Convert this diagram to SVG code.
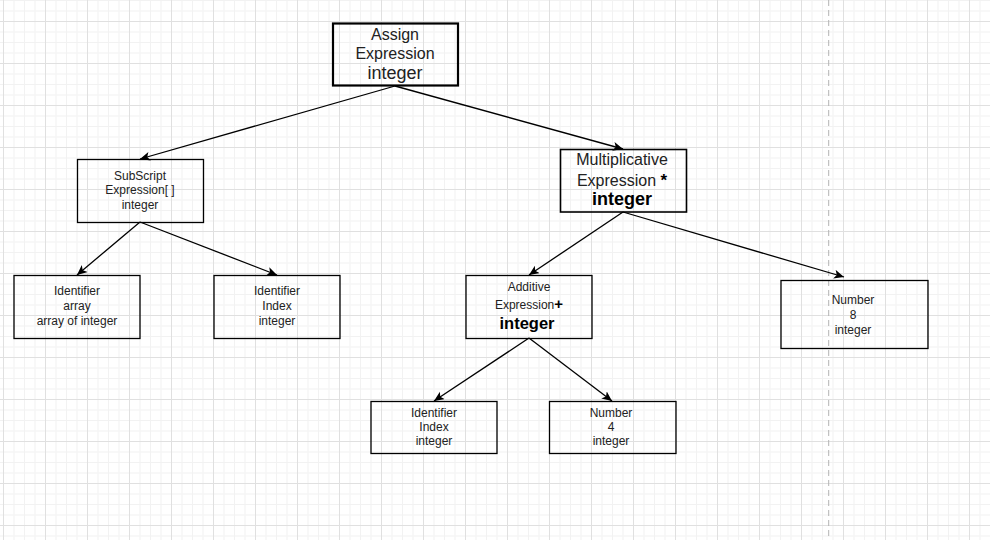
<svg xmlns="http://www.w3.org/2000/svg" width="990" height="540" viewBox="0 0 990 540">
<style>
.box{fill:none;stroke:#000;stroke-width:1.3}
.t{font-family:"Liberation Sans",Arial,sans-serif;fill:#222;text-anchor:middle}
.s12{font-size:12px}
.s16{font-size:16px}
.b{font-weight:bold;fill:#000}
.edge{stroke:#000;stroke-width:1.3;fill:none;marker-end:url(#arr)}
</style>
<defs>
<pattern id="grid" patternUnits="userSpaceOnUse" x="3" y="21" width="42" height="42">
<rect x="10.5" y="0" width="1" height="42" fill="#f2f2f2"/>
<rect x="21" y="0" width="1" height="42" fill="#f2f2f2"/>
<rect x="31.5" y="0" width="1" height="42" fill="#f2f2f2"/>
<rect x="0" y="10.5" width="42" height="1" fill="#f2f2f2"/>
<rect x="0" y="21" width="42" height="1" fill="#f2f2f2"/>
<rect x="0" y="31.5" width="42" height="1" fill="#f2f2f2"/>
<rect x="0" y="0" width="1" height="42" fill="#e0e0e0"/>
<rect x="0" y="0" width="42" height="1" fill="#e0e0e0"/>
</pattern>
<marker id="arr" markerUnits="userSpaceOnUse" markerWidth="12" markerHeight="10" refX="10" refY="4.5" orient="auto">
<path d="M0,0 L10,4.5 L0,9 L2.5,4.5 Z" fill="#000"/>
</marker>
</defs>
<rect width="990" height="540" fill="#fff"/>
<rect width="990" height="540" fill="url(#grid)"/>
<line x1="828.7" y1="0" x2="828.7" y2="540" stroke="#b3b3b3" stroke-width="1" stroke-dasharray="6 4"/>

<g id="connectors">
<line class="edge" x1="395" y1="86" x2="140" y2="159"/>
<line class="edge" x1="395" y1="86" x2="623" y2="149"/>
<line class="edge" x1="140" y1="222" x2="77" y2="275"/>
<line class="edge" x1="140" y1="222" x2="277" y2="275"/>
<line class="edge" x1="623" y1="212" x2="529" y2="275"/>
<line class="edge" x1="623" y1="212" x2="844" y2="277"/>
<line class="edge" x1="529" y1="338" x2="434" y2="401"/>
<line class="edge" x1="529" y1="338" x2="612" y2="401"/>
</g>

<g id="assign">
<rect class="box" x="333" y="23.5" width="125" height="62" style="stroke-width:2.2"/>
<text class="t s16" x="395" y="40">Assign</text>
<text class="t s16" x="395" y="59">Expression</text>
<text class="t" x="395" y="79" style="font-size:18px">integer</text>
</g>

<g id="subscript">
<rect class="box" x="77.5" y="159.5" width="126" height="63"/>
<text class="t s12" x="140" y="179.5">SubScript</text>
<text class="t s12" x="140" y="194">Expression[ ]</text>
<text class="t s12" x="140" y="208.5">integer</text>
</g>

<g id="mult">
<rect class="box" x="560.5" y="149.5" width="126" height="62.5" style="stroke-width:1.6"/>
<text class="t s16" x="622" y="165">Multiplicative</text>
<text class="t s16" x="622" y="185.5">Expression <tspan class="b" style="font-size:17px">*</tspan></text>
<text class="t b" x="622" y="205" style="font-size:18px">integer</text>
</g>

<g id="ident-array">
<rect class="box" x="14" y="275.5" width="126" height="63"/>
<text class="t s12" x="77" y="295">Identifier</text>
<text class="t s12" x="77" y="310">array</text>
<text class="t s12" x="77" y="325">array of integer</text>
</g>

<g id="ident-index1">
<rect class="box" x="214" y="275.5" width="126" height="63"/>
<text class="t s12" x="277" y="295">Identifier</text>
<text class="t s12" x="277" y="310">Index</text>
<text class="t s12" x="277" y="325">integer</text>
</g>

<g id="additive">
<rect class="box" x="466" y="275.5" width="126" height="63"/>
<text class="t s12" x="529" y="290.5">Additive</text>
<text class="t s12" x="529" y="309">Expression<tspan class="b" style="font-size:15px">+</tspan></text>
<text class="t b" x="527" y="329" style="font-size:16.5px">integer</text>
</g>

<g id="number8">
<rect class="box" x="781" y="280.5" width="147" height="68"/>
<text class="t s12" x="853" y="303.5">Number</text>
<text class="t s12" x="853" y="318.5">8</text>
<text class="t s12" x="853" y="333.5">integer</text>
</g>

<g id="ident-index2">
<rect class="box" x="371" y="401.5" width="126" height="52"/>
<text class="t s12" x="434" y="416.5">Identifier</text>
<text class="t s12" x="434" y="430.5">Index</text>
<text class="t s12" x="434" y="445">integer</text>
</g>

<g id="number4">
<rect class="box" x="549.5" y="401.5" width="126.5" height="52"/>
<text class="t s12" x="611" y="416.5">Number</text>
<text class="t s12" x="611" y="430.5">4</text>
<text class="t s12" x="611" y="445">integer</text>
</g>
</svg>
